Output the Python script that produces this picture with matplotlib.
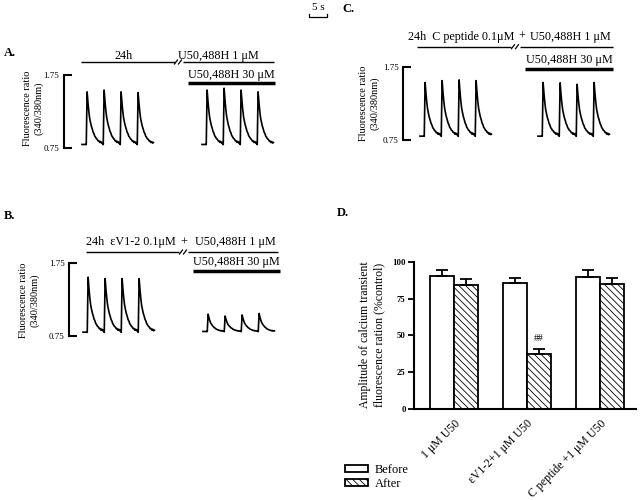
import numpy as np
import matplotlib
matplotlib.use('Agg')
import matplotlib.pyplot as plt

plt.rcParams['font.family'] = ['Liberation Serif', 'DejaVu Serif']
plt.rcParams['hatch.linewidth'] = 0.6

# one calcium transient as fraction of its amplitude, 0.25 s per sample
transient = [0.00, 1.00, 0.80, 0.63, 0.50, 0.42, 0.35, 0.30, 0.24, 0.21,
             0.16, 0.14, 0.11, 0.10, 0.07, 0.07, 0.04, 0.06, 0.03, 0.04]
lead_in = [0.03, 0.01, 0.03, 0.02, 0.03]
dt = 0.25

# fluorescence ratio 340/380: baselines and peak of each beat
a_base = [0.80, 0.80]
a_peaks_before = [1.52, 1.545, 1.52, 1.51]
a_peaks_after = [1.545, 1.57, 1.545, 1.52]
b_base = [0.80, 0.81]
b_peaks_before = [1.56, 1.54, 1.54, 1.54]
b_peaks_after = [1.05, 1.025, 1.04, 1.06]
c_base = [0.80, 0.80]
c_peaks_before = [1.535, 1.56, 1.57, 1.56]
c_peaks_after = [1.535, 1.53, 1.51, 1.535]

# panel D: amplitude of calcium transient (% control)
groups = ['1 μM U50', 'εV1-2+1 μM U50', 'C peptide +1 μM U50']
before = [90.5, 85.8, 89.8]
after = [84.0, 37.3, 84.7]
before_err = [3.9, 3.2, 4.6]
after_err = [4.3, 3.7, 4.0]

W, H = 640, 500
PX_PER_S = 3.4


def box(l, t, r, b):
    return [l / W, 1 - b / H, (r - l) / W, (b - t) / H]


def build_trace(base, peaks):
    vals = [base + v * 0.1 for v in lead_in]
    for p in peaks:
        vals += [base + (p - base) * v for v in transient]
    return np.array(vals)


fig = plt.figure(figsize=(6.4, 5.0), dpi=100)

ov = fig.add_axes([0, 0, 1, 1])
ov.set_xlim(0, W)
ov.set_ylim(H, 0)
ov.axis('off')


def hline(x0, x1, y, lw=1.0):
    ov.plot([x0, x1], [y, y], color='black', lw=lw, solid_capstyle='butt')


def break_mark(x, y):
    ov.plot([x - 2.5, x + 0.5], [y + 2, y - 2], color='black', lw=0.9)
    ov.plot([x + 1.5, x + 4.5], [y + 2, y - 2], color='black', lw=0.9)


def label(x, y, s, ha='left'):
    # y is the middle of the lower-case letters; draw on the baseline
    ov.text(x, y + 3.3, s, ha=ha, va='baseline', fontsize=8.7)


def trace_panel(spine_x, top, bottom, starts, bases, peak_sets):
    ax = fig.add_axes(box(spine_x, top, spine_x + 240, bottom))
    ax.set_xlim(0, 240 / PX_PER_S)
    ax.set_ylim(0.75, 1.75)
    for st, base, peaks in zip(starts, bases, peak_sets):
        y = build_trace(base, peaks)
        t = (st - spine_x) / PX_PER_S + np.arange(len(y)) * dt
        ax.plot(t, y, color='black', lw=1.2)
    for s in ['top', 'right', 'bottom']:
        ax.spines[s].set_visible(False)
    ax.spines['left'].set_linewidth(1.5)
    ax.set_xticks([])
    ax.set_yticks([0.75, 1.75])
    ax.set_yticklabels(['0.75', '1.75'])
    ax.tick_params(axis='y', direction='in', length=6, width=1.5,
                   labelsize=6.5, pad=3)
    ax.patch.set_visible(False)
    return ax


ylab = 'Fluorescence ratio\n(340/380nm)'

# scale bar
ov.text(318, 7, '5 s', ha='center', va='center', fontsize=8)
ov.plot([309, 309, 327, 327], [14, 17, 17, 14], color='black', lw=0.9)

# panel A
ov.text(4, 53, 'A.', fontsize=9, fontweight='bold', va='center')
label(124, 55.7, '24h', ha='center')
label(178, 55.7, 'U50,488H 1 μM')
hline(81, 175, 62)
break_mark(177, 62)
hline(183, 274, 62)
label(231.5, 74.3, 'U50,488H 30 μM', ha='center')
hline(188, 275, 83.3, lw=2.5)
ov.text(33, 108, ylab, rotation=90, ha='center', va='center',
        multialignment='center', fontsize=7.4, linespacing=1.3)
trace_panel(63.5, 75, 148.3, [82, 202], a_base, [a_peaks_before, a_peaks_after])

# panel B
ov.text(4, 216, 'B.', fontsize=9, fontweight='bold', va='center')
label(86, 242, '24h  εV1-2 0.1μM')
label(184, 242, '+', ha='center')
label(195, 242, 'U50,488H 1 μM')
hline(86, 179, 252)
break_mark(182, 252)
hline(188, 278, 252)
label(236.5, 262, 'U50,488H 30 μM', ha='center')
hline(193, 280, 271, lw=2.5)
ov.text(29, 300, ylab, rotation=90, ha='center', va='center',
        multialignment='center', fontsize=7.4, linespacing=1.3)
trace_panel(69, 263.3, 336, [83, 203], b_base, [b_peaks_before, b_peaks_after])

# panel C
ov.text(342, 9.5, 'C.', fontsize=9, fontweight='bold', va='center')
label(408, 36.7, '24h  C peptide 0.1μM')
label(522, 36.7, '+', ha='center')
label(530, 36.7, 'U50,488H 1 μM')
hline(417, 511, 46.7)
break_mark(514, 46.7)
hline(520, 613, 46.7)
label(569, 60, 'U50,488H 30 μM', ha='center')
hline(525, 613, 69, lw=2.5)
ov.text(369, 103, ylab, rotation=90, ha='center', va='center',
        multialignment='center', fontsize=7.4, linespacing=1.3)
trace_panel(403, 66.7, 140, [420, 538], c_base, [c_peaks_before, c_peaks_after])

# panel D
ov.text(337, 213, 'D.', fontsize=9, fontweight='bold', va='center')
ov.text(372, 335, 'Amplitude of calcium transient\nfluorescence ration (%control)',
        rotation=90, ha='center', va='center', multialignment='center',
        fontsize=8.5, linespacing=1.2)

axd = fig.add_axes(box(414, 261.7, 636, 409))
x = np.arange(len(groups))
w = 0.33
b1 = axd.bar(x - w / 2, before, w, color='white', edgecolor='black', lw=1.3,
             label='Before')
b2 = axd.bar(x + w / 2, after, w, color='white', edgecolor='black', lw=1.3,
             hatch='\\\\\\\\\\', label='After')
axd.errorbar(x - w / 2, before, yerr=[np.zeros(3), before_err], fmt='none',
             ecolor='black', elinewidth=1.3, capsize=4, capthick=1.3)
axd.errorbar(x + w / 2, after, yerr=[np.zeros(3), after_err], fmt='none',
             ecolor='black', elinewidth=1.3, capsize=4, capthick=1.3)
axd.text(1 + w / 2, after[1] + after_err[1] + 7, '##', ha='center', va='center',
         fontsize=7)
axd.set_xlim(-0.548, 2.493)
axd.set_ylim(0, 100)
axd.set_yticks([0, 25, 50, 75, 100])
axd.tick_params(axis='y', length=4, width=1.3, labelsize=6.3, pad=2)
for lab in axd.get_yticklabels():
    lab.set_fontweight('bold')
axd.set_xticks(x)
axd.set_xticklabels(groups, rotation=45, ha='right', rotation_mode='anchor',
                    fontsize=8.5)
axd.tick_params(axis='x', length=0, pad=6)
axd.spines['top'].set_visible(False)
axd.spines['right'].set_visible(False)
axd.spines['left'].set_linewidth(1.5)
axd.spines['bottom'].set_linewidth(1.5)
axd.patch.set_visible(False)

fig.legend(handles=[b1, b2], labels=['Before', 'After'], loc='upper left',
           bbox_to_anchor=(345 / W, 1 - 464 / H), frameon=False, fontsize=9,
           handlelength=1.8, handleheight=0.55, labelspacing=0.15,
           handletextpad=0.6, borderpad=0, borderaxespad=0)

fig.savefig('out.png', dpi=100)
